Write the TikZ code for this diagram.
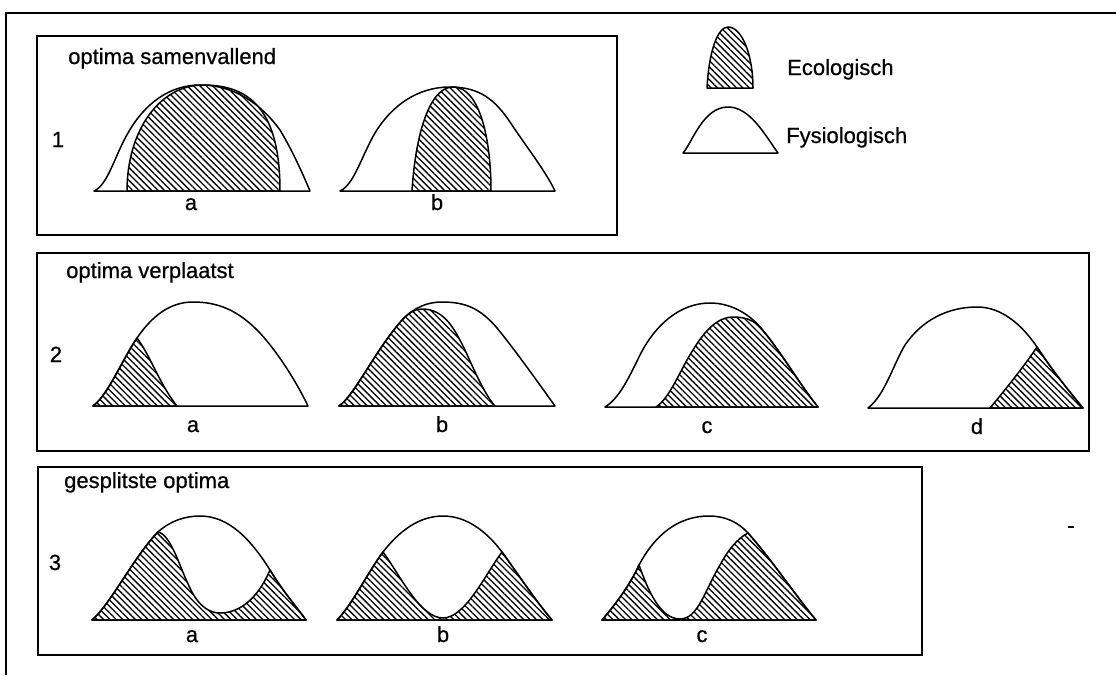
\documentclass[tikz,border=0pt]{standalone}
\usepackage{fontspec}
\setmainfont{Liberation Sans}
\newfontfamily\lblfont[FakeBold=0.6]{Liberation Sans}
\usetikzlibrary{patterns.meta}
\tikzset{
  phys/.style={draw, fill=white, line width=1.5pt, line join=round},
  eco/.style={draw, line width=1.5pt, line join=round, pattern={Lines[angle=-45,distance=4.5pt,line width=1.3pt]}},
  frame/.style={draw, line width=1.3pt},
  lbl/.style={font=\lblfont\fontsize{22}{26}\selectfont, inner sep=0pt},
}
\begin{document}
\begin{tikzpicture}[x=1pt,y=-1pt]
\useasboundingbox (0,0) rectangle (1116,675);
% outer frame
\draw[frame] (1116,13) -- (6,13) -- (6,675);
% boxes
\draw[frame] (37,36) rectangle (617,235);
\draw[frame] (37,253) rectangle (1089,451);
\draw[frame] (38,467) rectangle (922,655);

% titles
\node[lbl, anchor=base west] (t1) at (68,64) {optima samenvallend};
\node[lbl, anchor=base west] (t2) at (66,278) {optima verplaatst};
\node[lbl, anchor=base west] (t3) at (64,488) {gesplitste optima};
\node[lbl, anchor=base] (n1) at (58,147) {1};
\node[lbl, anchor=base] (n2) at (56,362) {2};
\node[lbl, anchor=base] (n3) at (55,570) {3};

% legend
\draw[eco] (707,88) .. controls (709,50) and (718,27) .. (728,27) .. controls (742,27) and (753,55) .. (753,88) -- cycle;
\draw[phys] (683,153) .. controls (692,143) and (703,107) .. (728,107) .. controls (750,107) and (765,135) .. (778,153) -- cycle;
\node[lbl, anchor=base west] (leco) at (787,75) {Ecologisch};
\node[lbl, anchor=base west] (lfys) at (786,143) {Fysiologisch};

% ---- row 1
\draw[phys] (94,191) .. controls (108,185) and (115,155) .. (128,133) .. controls (145,103) and (170,85) .. (200,85) .. controls (235,85) and (262,105) .. (280,130) .. controls (292,150) and (302,172) .. (310,191) -- cycle;
\draw[eco] (127,191) .. controls (127,130) and (160,85) .. (203,85) .. controls (250,85) and (280,110) .. (280,191) -- cycle;
\node[lbl, anchor=base] (a1) at (191,210) {a};

\draw[phys] (340,191) .. controls (354,185) and (362,155) .. (375,133) .. controls (392,105) and (418,87) .. (450,87) .. controls (480,87) and (495,100) .. (510,122) .. controls (525,145) and (545,170) .. (555,191) -- cycle;
\draw[eco] (412,191) .. controls (415,140) and (428,87) .. (453,87) .. controls (480,87) and (491,140) .. (491,191) -- cycle;
\node[lbl, anchor=base] (b1) at (437,210) {b};

% ---- row 2
\draw[phys] (93,406) .. controls (108,395) and (122,360) .. (137,338) .. controls (152,316) and (170,302) .. (193,302) .. controls (218,302) and (238,310) .. (260,333) .. controls (280,355) and (298,385) .. (308,406) -- cycle;
\draw[eco] (93,406) .. controls (108,395) and (122,360) .. (137,338) .. controls (150,355) and (160,385) .. (177,406) -- cycle;
\node[lbl, anchor=base] (a2) at (193,432) {a};

\draw[phys] (339,406) .. controls (355,395) and (375,350) .. (403,319) .. controls (415,307) and (428,302) .. (442,302) .. controls (465,302) and (480,308) .. (497,328) .. controls (515,350) and (540,385) .. (555,406) -- cycle;
\draw[eco] (339,406) .. controls (355,395) and (375,350) .. (403,319) .. controls (410,312) and (415,309) .. (422,309) .. controls (445,309) and (455,330) .. (465,350) .. controls (475,372) and (485,395) .. (495,406) -- cycle;
\node[lbl, anchor=base] (b2) at (442,432) {b};

\draw[phys] (605,407) .. controls (620,398) and (630,375) .. (640,355) .. controls (655,325) and (680,303) .. (710,303) .. controls (730,303) and (748,313) .. (760,327) .. controls (780,350) and (800,385) .. (818,407) -- cycle;
\draw[eco] (656,407) .. controls (670,398) and (680,370) .. (693,350) .. controls (705,330) and (718,317) .. (733,317) .. controls (745,317) and (753,320) .. (760,327) .. controls (780,350) and (800,385) .. (818,407) -- cycle;
\node[lbl, anchor=base] (c2) at (707,433) {c};

\draw[phys] (868,408) .. controls (885,395) and (893,365) .. (905,345) .. controls (922,320) and (948,307) .. (977,307) .. controls (1002,307) and (1022,325) .. (1037,347) .. controls (1052,370) and (1068,390) .. (1083,408) -- cycle;
\draw[eco] (990,408) .. controls (1005,390) and (1025,365) .. (1037,347) .. controls (1052,370) and (1068,390) .. (1083,408) -- cycle;
\node[lbl, anchor=base] (d2) at (977,434) {d};

% ---- row 3
\draw[phys] (92,620) .. controls (110,605) and (135,555) .. (158,532) .. controls (170,521) and (185,516) .. (200,516) .. controls (228,516) and (250,538) .. (270,570) .. controls (282,590) and (295,605) .. (306,620) -- cycle;
\draw[eco] (92,620) .. controls (110,605) and (135,555) .. (158,532) .. controls (172,535) and (180,570) .. (192,592) .. controls (200,607) and (210,613) .. (220,613) .. controls (240,613) and (258,598) .. (270,570) .. controls (282,590) and (295,605) .. (306,620) -- cycle;
\node[lbl, anchor=base] (a3) at (192,642) {a};

\draw[phys] (337,620) .. controls (352,605) and (368,572) .. (383,552) .. controls (400,530) and (420,516) .. (443,516) .. controls (467,516) and (487,532) .. (502,552) .. controls (518,574) and (535,600) .. (552,620) -- cycle;
\draw[eco] (337,620) .. controls (352,605) and (368,572) .. (383,552) .. controls (400,575) and (420,618) .. (443,618) .. controls (465,618) and (485,575) .. (502,552) .. controls (518,574) and (535,600) .. (552,620) -- cycle;
\node[lbl, anchor=base] (b3) at (443,642) {b};

\draw[phys] (602,620) .. controls (615,605) and (630,585) .. (639,565) .. controls (655,535) and (678,516) .. (709,516) .. controls (725,516) and (738,522) .. (748,533) .. controls (772,560) and (795,595) .. (816,620) -- cycle;
\draw[eco] (602,620) .. controls (615,605) and (630,585) .. (639,565) .. controls (648,590) and (660,619) .. (680,619) .. controls (698,619) and (705,590) .. (720,565) .. controls (728,550) and (738,538) .. (748,533) .. controls (772,560) and (795,595) .. (816,620) -- cycle;
\node[lbl, anchor=base] (c3) at (702,642) {c};

% small mark
\draw[line width=1.5pt] (1068,527) -- (1074,527);
\end{tikzpicture}
\end{document}
